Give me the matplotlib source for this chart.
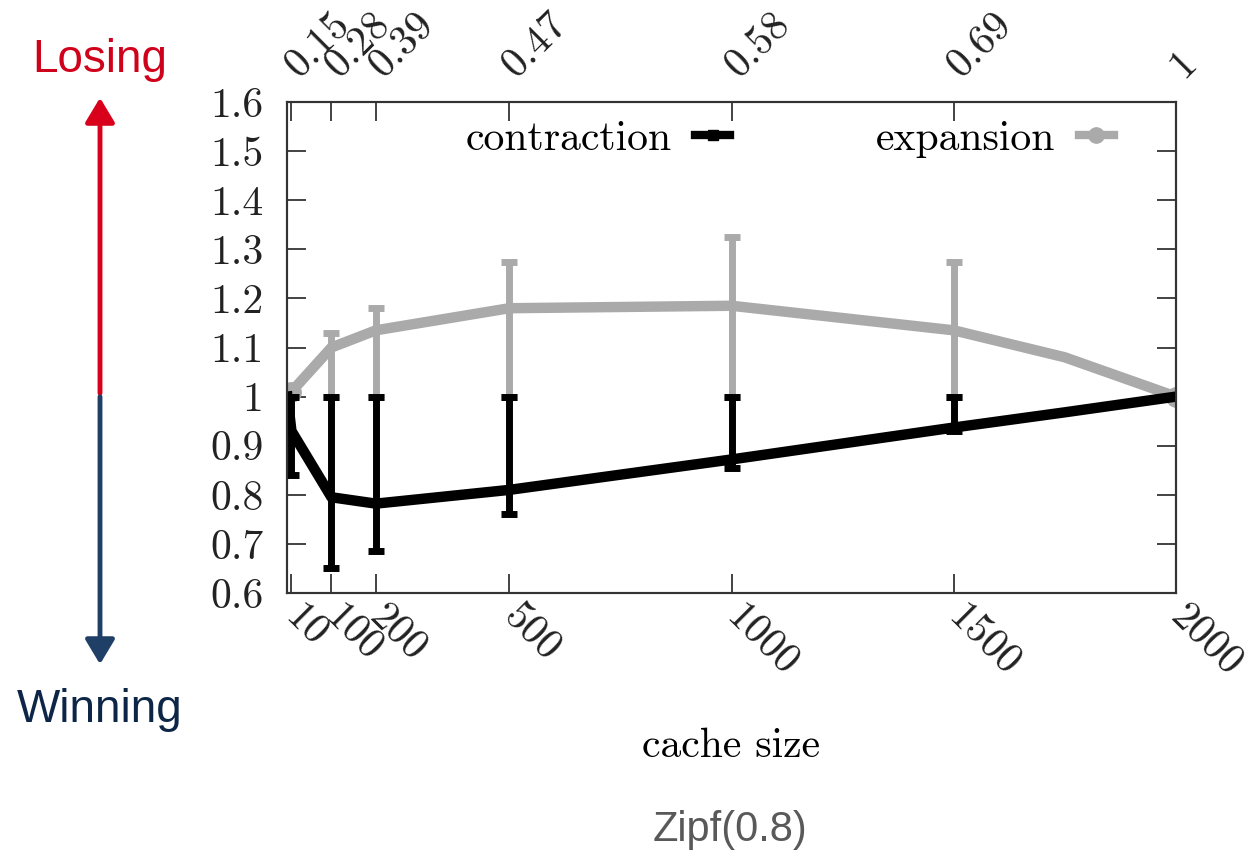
import numpy as np
import matplotlib
matplotlib.use("Agg")
import matplotlib.pyplot as plt
from matplotlib.lines import Line2D

plt.rcParams['font.family'] = ['cmr10', 'DejaVu Serif']
plt.rcParams['axes.formatter.use_mathtext'] = True

# ---- data ----
cache_x = [1, 10, 100, 200, 500, 1000, 1500, 1750, 2000]
contraction = [1.0, 0.93, 0.795, 0.782, 0.81, 0.872, 0.937, 0.968, 1.0]
contraction_lo = [np.nan, 0.84, 0.65, 0.685, 0.76, 0.855, 0.93, np.nan, np.nan]
contraction_hi = [np.nan, 1.0, 1.0, 1.0, 1.0, 1.0, 1.0, np.nan, np.nan]
expansion = [1.0, 1.01, 1.10, 1.135, 1.18, 1.185, 1.135, 1.08, 1.0]
expansion_lo = [np.nan, np.nan, 1.0, 1.0, 1.0, 1.0, 1.0, np.nan, np.nan]
expansion_hi = [np.nan, np.nan, 1.13, 1.18, 1.275, 1.325, 1.275, np.nan, np.nan]

bottom_ticks = [10, 100, 200, 500, 1000, 1500, 2000]
bottom_labels = ['10', '100', '200', '500', '1000', '1500', '2000']
top_labels = ['0.15', '0.28', '0.39', '0.47', '0.58', '0.69', '1']
y_ticks = [0.6, 0.7, 0.8, 0.9, 1.0, 1.1, 1.2, 1.3, 1.4, 1.5, 1.6]
y_labels = ['0.6', '0.7', '0.8', '0.9', '1', '1.1', '1.2', '1.3', '1.4', '1.5', '1.6']

GRAY = '#aaaaaa'
FS = 30

fig = plt.figure(figsize=(12.48, 8.56), dpi=100)
ax = fig.add_axes([287 / 1248, 1 - 593 / 856, (1176 - 287) / 1248, (593 - 102) / 856])


def asym(vals, lo, hi):
    v = np.array(vals, float)
    return np.vstack([v - np.array(lo, float), np.array(hi, float) - v])


ax.plot(cache_x, expansion, color=GRAY, lw=7.5, solid_capstyle='round', zorder=2)
ax.errorbar(cache_x, expansion, yerr=asym(expansion, expansion_lo, expansion_hi),
            fmt='none', ecolor=GRAY, elinewidth=5, capsize=6, capthick=5, zorder=2)
ax.plot([cache_x[1], cache_x[-1]], [expansion[1], expansion[-1]], 'o', color=GRAY, ms=14, zorder=2)

ax.plot(cache_x, contraction, color='black', lw=7.5, zorder=3)
ax.errorbar(cache_x, contraction, yerr=asym(contraction, contraction_lo, contraction_hi),
            fmt='none', ecolor='black', elinewidth=5, capsize=6, capthick=5, zorder=3)

ax.set_xlim(0, 2000)
ax.set_ylim(0.6, 1.6)
ax.set_yticks(y_ticks)
ax.set_yticklabels(y_labels, fontsize=FS)
ax.set_xticks(bottom_ticks)
ax.set_xticklabels(bottom_labels, fontsize=FS, rotation=-45, ha='left', va='center',
                   rotation_mode='anchor')
ax.tick_params(axis='both', direction='in', length=14, width=1.2, colors='#222222',
               right=True)
ax.tick_params(axis='y', pad=17)
ax.tick_params(axis='x', pad=13)
ax.set_xlabel('cache size', fontsize=FS, labelpad=32)

top = ax.twiny()
top.set_xlim(ax.get_xlim())
top.set_xticks(bottom_ticks)
top.set_xticklabels(top_labels, fontsize=FS, rotation=45, ha='left', va='center',
                    rotation_mode='anchor')
top.tick_params(axis='x', direction='in', length=14, width=1.2, colors='#222222', pad=22)
for a in (ax, top):
    for s in a.spines.values():
        s.set_linewidth(1.5)
        s.set_color('#333333')

handles = [Line2D([], [], color='black', lw=6, marker='s', ms=7),
           Line2D([], [], color=GRAY, lw=6, marker='o', ms=11)]
fig.legend(handles, ['contraction', 'expansion'], ncol=2, markerfirst=False, frameon=False,
           loc='center', bbox_to_anchor=(790 / 1248, 1 - 139 / 856), fontsize=FS,
           handlelength=0.85, handletextpad=0.55, columnspacing=3.5, borderpad=0)

# side annotations
fig.text(100 / 1248, 1 - 60 / 856, 'Losing', color='#d0021b', fontsize=33,
         family='Liberation Sans', ha='center', va='center')
fig.text(100 / 1248, 1 - 710 / 856, 'Winning', color='#0d2647', fontsize=33,
         family='Liberation Sans', ha='center', va='center')
fig.text(730 / 1248, 1 - 830 / 856, 'Zipf(0.8)', color='#595959', fontsize=30,
         family='Liberation Sans', ha='center', va='center')
fig.add_artist(matplotlib.patches.FancyArrowPatch(
    (100 / 1248, 1 - 396 / 856), (100 / 1248, 1 - 95 / 856), transform=fig.transFigure,
    arrowstyle='-|>,head_length=10,head_width=6', mutation_scale=1.5, color='#d9001b', lw=3.5))
fig.add_artist(matplotlib.patches.FancyArrowPatch(
    (100 / 1248, 1 - 394 / 856), (100 / 1248, 1 - 667 / 856), transform=fig.transFigure,
    arrowstyle='-|>,head_length=10,head_width=6', mutation_scale=1.5, color='#1f3f66', lw=3.5))

fig.savefig('out.png', dpi=100)
